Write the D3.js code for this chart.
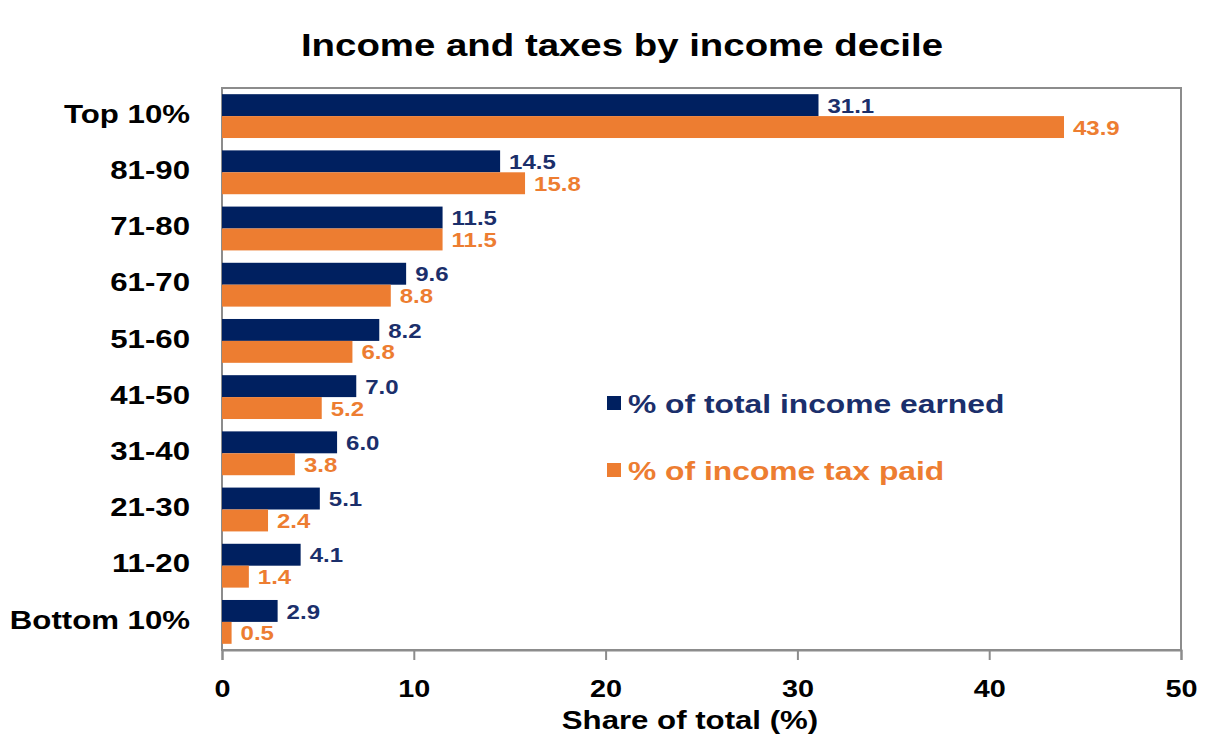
<!DOCTYPE html>
<html><head><meta charset="utf-8">
<script src="https://cdn.jsdelivr.net/npm/d3@7/dist/d3.min.js"></script>
<style>body{margin:0;background:#fff;} text{font-family:"Liberation Sans",Arial,sans-serif;font-weight:bold;}</style>
</head><body>
<svg id="chart" width="1208" height="750"></svg>
<script>
const categories = ["Top 10%","81-90","71-80","61-70","51-60","41-50","31-40","21-30","11-20","Bottom 10%"];
const incomeEarned = [31.1,14.5,11.5,9.6,8.2,7.0,6.0,5.1,4.1,2.9];
const taxPaid = [43.9,15.8,11.5,8.8,6.8,5.2,3.8,2.4,1.4,0.5];
const seriesNames = ["% of total income earned","% of income tax paid"];
const xTicks = [0,10,20,30,40,50];

const navy = "#002060", orange = "#ED7D31", navyText = "#1B2F6B";
const SX = 1.2; // horizontal stretch of the reference lettering
const svg = d3.select("#chart");
const m = {left:222, right:1181, top:88, bottom:650};

const x = d3.scaleLinear().domain([0,50]).range([m.left, m.right]);
const y = d3.scaleBand().domain(categories).range([m.top, m.bottom]).paddingInner(0.22).paddingOuter(0.11);
const y2 = d3.scaleBand().domain([0,1]).range([0, y.bandwidth()]);

function addText(px, py, str, size, fill, anchor, dy){
  const t = svg.append("g").attr("transform",`translate(${px},${py}) scale(${SX},1)`)
    .append("text").attr("font-size",size).attr("fill",fill).attr("text-anchor",anchor||"start").text(str);
  if(dy) t.attr("dy",dy);
  return t;
}

// title
addText(622, 56, "Income and taxes by income decile", 32, "#000", "middle");

// frame
svg.append("rect").attr("x", m.left).attr("y", m.top).attr("width", m.right-m.left).attr("height", m.bottom-m.top)
  .attr("fill","none").attr("stroke","#8c8c8c").attr("stroke-width",2);

const data = categories.map((c,i)=>({c, vals:[incomeEarned[i], taxPaid[i]]}));
const colors = [navy, orange];
const textColors = [navyText, orange];

data.forEach(d=>{
  d.vals.forEach((v,j)=>{
    svg.append("rect").attr("x", x(0)).attr("y", y(d.c)+y2(j))
      .attr("width", x(v)-x(0)).attr("height", y2.bandwidth()).attr("fill", colors[j]);
    addText(x(v)+9, y(d.c)+y2(j)+y2.bandwidth()/2, v.toFixed(1), 20, textColors[j], "start", "0.38em");
  });
});

// x axis
const xAxis = svg.append("g").attr("transform",`translate(0,${m.bottom})`)
  .call(d3.axisBottom(x).tickValues(xTicks).tickSize(10).tickPadding(20));
xAxis.select(".domain").attr("stroke","#8c8c8c").attr("stroke-width",2);
xAxis.selectAll(".tick line").attr("stroke","#8c8c8c").attr("stroke-width",2);
xAxis.selectAll(".tick text").attr("font-size",24).attr("fill","#000").attr("transform",`scale(${SX},1)`)
  .style("font-family","Liberation Sans, Arial, sans-serif").style("font-weight","bold");

// y axis labels
const yAxis = svg.append("g").attr("transform",`translate(${m.left},0)`)
  .call(d3.axisLeft(y).tickSize(0).tickPadding(32/SX));
yAxis.select(".domain").remove();
yAxis.selectAll(".tick text").attr("font-size",26).attr("fill","#000").attr("dy","0.26em").attr("transform",`scale(${SX},1)`)
  .style("font-family","Liberation Sans, Arial, sans-serif").style("font-weight","bold");

// axis title
addText(690, 729, "Share of total (%)", 26, "#000", "middle");

// legend
const legY = [403, 470];
seriesNames.forEach((s,i)=>{
  svg.append("rect").attr("x",607).attr("y",legY[i]-7).attr("width",14).attr("height",14).attr("fill",colors[i]);
  addText(628, legY[i], s, 26.5, i===0?navyText:orange, "start", "0.36em");
});
</script>
</body></html>
